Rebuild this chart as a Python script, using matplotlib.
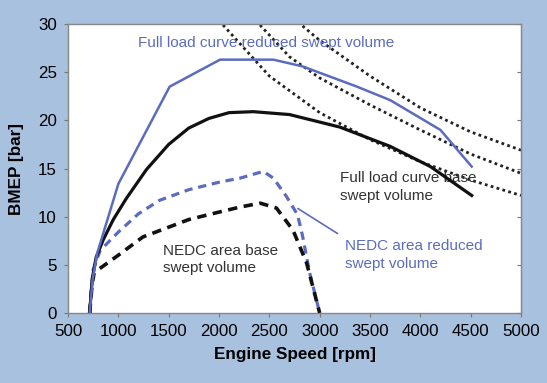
import matplotlib
matplotlib.use("Agg")
import matplotlib.pyplot as plt

# full load curve, reduced swept volume (blue solid)
fl_red_rpm = [715, 745, 790, 1000, 1510, 2010, 2540, 2830, 3370, 3700, 4200, 4510]
fl_red_bmep = [0, 3.5, 6.2, 13.4, 23.5, 26.3, 26.3, 25.6, 23.5, 22.1, 19.0, 15.2]

# full load curve, base swept volume (black solid)
fl_base_rpm = [715, 740, 780, 850, 950, 1080, 1280, 1500, 1700, 1900, 2100, 2340, 2700, 3200, 3700, 4100, 4510]
fl_base_bmep = [0, 3.5, 5.8, 7.6, 9.7, 11.9, 14.9, 17.5, 19.2, 20.2, 20.8, 20.9, 20.6, 19.3, 17.3, 15.2, 12.2]

# NEDC area, reduced swept volume (blue dashed)
nedc_red_rpm = [715, 750, 820, 1000, 1200, 1410, 1700, 2010, 2210, 2440, 2540, 2670, 2780, 2830, 2900, 3000]
nedc_red_bmep = [0, 4.5, 6.5, 8.4, 10.3, 11.7, 12.8, 13.6, 14.0, 14.7, 14.0, 12.1, 10.2, 8.0, 4.2, 0]

# NEDC area, base swept volume (black dashed)
nedc_base_rpm = [715, 740, 760, 1000, 1245, 1700, 2010, 2210, 2410, 2570, 2735, 2870, 3000]
nedc_base_bmep = [0, 3.0, 4.2, 6.0, 7.9, 9.7, 10.5, 11.0, 11.4, 10.9, 8.6, 5.2, 0]

# constant power lines (black dotted)
pow1_rpm = [2040, 2500, 3000, 3500, 4000, 4500, 5000]
pow1_bmep = [29.9, 24.6, 20.8, 18.0, 15.7, 13.8, 12.2]
pow2_rpm = [2407, 2700, 3000, 3500, 4000, 4500, 5000]
pow2_bmep = [29.9, 26.6, 24.4, 21.6, 19.0, 16.5, 14.5]
pow3_rpm = [2830, 3000, 3500, 4000, 4500, 5000]
pow3_bmep = [29.8, 28.3, 24.6, 21.3, 18.8, 16.9]

x_ticks = [500, 1000, 1500, 2000, 2500, 3000, 3500, 4000, 4500, 5000]
y_ticks = [0, 5, 10, 15, 20, 25, 30]

BG = "#a7c1df"
BLUE = "#5b6cc0"
plt.rcParams["font.family"] = ["Liberation Sans", "DejaVu Sans"]

fig = plt.figure(figsize=(5.47, 3.83), dpi=100, facecolor=BG)
ax = fig.add_axes([0.1243, 0.1828, 0.8282, 0.7545])
ax.set_facecolor("white")

for xs, ys in ((pow1_rpm, pow1_bmep), (pow2_rpm, pow2_bmep), (pow3_rpm, pow3_bmep)):
    ax.plot(xs, ys, color="#222222", lw=2.0, ls=(0, (1, 1.2)), zorder=2)

ax.plot(nedc_red_rpm, nedc_red_bmep, color=BLUE, lw=2.3, dashes=(2.6, 1.8), zorder=3)
ax.plot(nedc_base_rpm, nedc_base_bmep, color="#111111", lw=2.6, dashes=(2.6, 1.8), zorder=4)
ax.plot(fl_base_rpm, fl_base_bmep, color="#111111", lw=2.3, zorder=4)
ax.plot(fl_red_rpm, fl_red_bmep, color=BLUE, lw=1.8, zorder=5)

ax.set_xlim(500, 5000)
ax.set_ylim(0, 30)
ax.set_xticks(x_ticks)
ax.set_yticks(y_ticks)
ax.tick_params(labelsize=12.2, length=3, color="#777777", pad=5)
for sp in ax.spines.values():
    sp.set_color("#888888")
    sp.set_linewidth(1.0)
sec = ax.secondary_yaxis("right")
sec.set_yticks(y_ticks)
sec.tick_params(direction="in", length=3, color="#777777", labelright=False)
sec.spines["right"].set_color("#888888")

ax.set_xlabel("Engine Speed [rpm]", fontsize=12.3, fontweight="bold", labelpad=6)
ax.set_ylabel("BMEP [bar]", fontsize=12.3, fontweight="bold", labelpad=10)

lab = dict(fontsize=11)
ax.text(1200, 28.0, "Full load curve reduced swept volume", color=BLUE, va="center", **lab)
ax.text(3200, 14.7, "Full load curve base\nswept volume", color="#333333", va="top",
        linespacing=1.35, **lab)
ax.text(1440, 7.2, "NEDC area base\nswept volume", color="#333333", va="top",
        linespacing=1.35, **lab)
ax.text(3250, 7.7, "NEDC area reduced\nswept volume", color=BLUE, va="top",
        linespacing=1.35, **lab)
ax.annotate("", xy=(2760, 11.0), xytext=(3200, 8.1),
            arrowprops=dict(arrowstyle="-", color=BLUE, lw=1.2))

fig.savefig("out.png", dpi=100, facecolor=BG)
